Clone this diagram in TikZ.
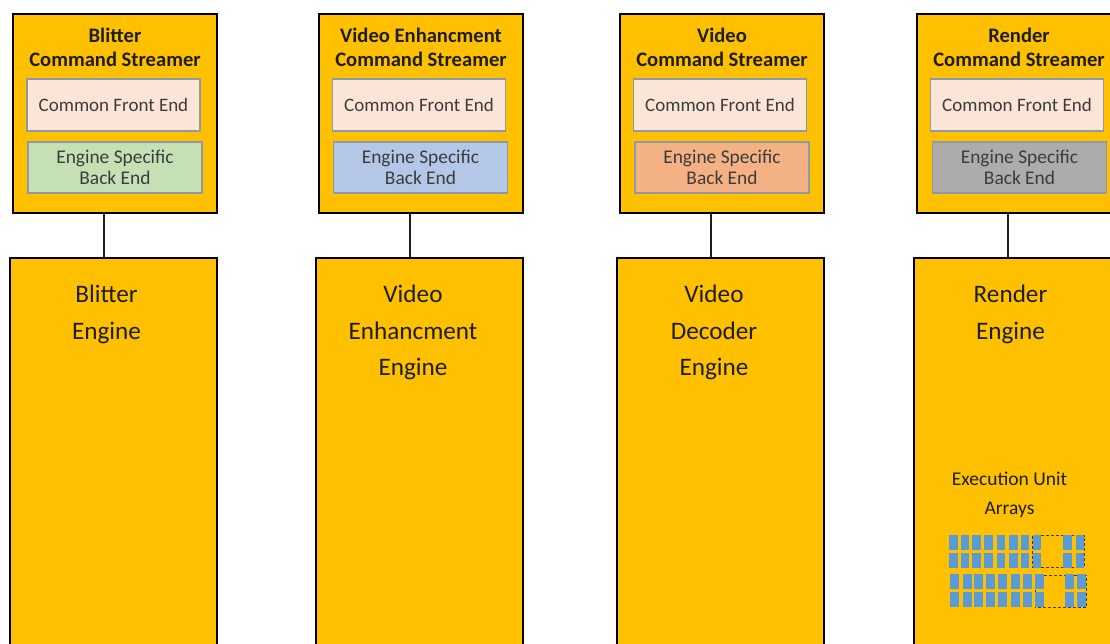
\documentclass[tikz,border=0pt]{standalone}
\usepackage{fontspec}
\setmainfont{Carlito}
\definecolor{engfill}{HTML}{FFC000}
\definecolor{frontfill}{HTML}{FBE5D6}
\definecolor{innerline}{HTML}{8E9AAB}
\definecolor{bltfill}{HTML}{C5E0B4}
\definecolor{vefill}{HTML}{B4C7E7}
\definecolor{vdfill}{HTML}{F4B183}
\definecolor{rndfill}{HTML}{AEABAB}
\definecolor{eublue}{HTML}{5B9BD5}
\definecolor{ink}{HTML}{1E1E1E}
\definecolor{softink}{HTML}{3C3C3C}
\begin{document}
\begin{tikzpicture}[x=1pt,y=-1pt,
  streamer/.style={draw=black, line width=2.8pt, fill=engfill, minimum width=204pt, minimum height=199pt, inner sep=0pt},
  engine/.style={draw=black, line width=2.8pt, fill=engfill, minimum width=207pt, minimum height=450pt, inner sep=0pt},
  front/.style={draw=innerline, line width=1.2pt, fill=frontfill, minimum width=173pt, minimum height=52pt, inner sep=0pt,
    text=softink, font=\fontsize{19}{21}\selectfont},
  back/.style={draw=innerline, line width=1.2pt, minimum width=174pt, minimum height=51pt, inner sep=0pt, align=center,
    text=softink, font=\fontsize{19.4}{21}\selectfont},
  title/.style={align=center, inner sep=0pt, text=ink, font=\bfseries\fontsize{20.6}{24}\selectfont},
  engtext/.style={align=center, inner sep=0pt, text=ink, font=\fontsize{25.2}{36.5}\selectfont},
  link/.style={draw=ink, line width=2.4pt},
  eu/.style={fill=eublue, draw=none},
  spare/.style={draw=softink, line width=0.9pt, dash pattern=on 3pt off 2pt}
]
\useasboundingbox (0,0) rectangle (1110,644);
\clip (0,0) rectangle (1110,644);
\fill[white] (0,0) rectangle (1110,644);

% command streamers
\node[streamer] (cs1) at (115,113.5) {};
\node[streamer] (cs2) at (421,113.5) {};
\node[streamer] (cs3) at (722,113.5) {};
\node[streamer] (cs4) at (1019,113.5) {};

\node[title] (t1) at (115,47) {Blitter\\Command Streamer};
\node[title] (t2) at (421,47) {Video Enhancment\\Command Streamer};
\node[title] (t3) at (722,47) {Video\\Command Streamer};
\node[title] (t4) at (1019,47) {Render\\Command Streamer};

\node[front] (f1) at (113.5,105) {Common Front End};
\node[front] (f2) at (419,105) {Common Front End};
\node[front] (f3) at (720,105) {Common Front End};
\node[front] (f4) at (1017,105) {Common Front End};

\node[back, fill=bltfill] (b1) at (115,167.5) {Engine Specific\\Back End};
\node[back, fill=vefill]  (b2) at (420.5,167.5) {Engine Specific\\Back End};
\node[back, fill=vdfill]  (b3) at (722,167.5) {Engine Specific\\Back End};
\node[back, fill=rndfill] (b4) at (1019.5,167.5) {Engine Specific\\Back End};

% engines
\node[engine] (e1) at (113.5,483) {};
\node[engine] (e2) at (419.5,483) {};
\node[engine] (e3) at (720.5,483) {};
\node[engine] (e4) at (1017.5,483) {};

% streamer to engine links
\foreach \i in {1,2,3,4}{
  \draw[link] ([xshift=-11pt]cs\i.south) -- ([xshift=-11pt]cs\i.south |- e\i.north);
}

\node[engtext, anchor=north] (n1) at (106.5,285) {Blitter\\Engine};
\node[engtext, anchor=north] (n2) at (413,285) {Video\\Enhancment\\Engine};
\node[engtext, anchor=north] (n3) at (714,285) {Video\\Decoder\\Engine};
\node[engtext, anchor=north] (n4) at (1010.5,285) {Render\\Engine};

% execution unit arrays
\node[align=center, inner sep=0pt, text=ink, font=\fontsize{19.5}{29}\selectfont] (eut) at (1009.5,495) {Execution Unit\\Arrays};

\draw[spare] (1032.7,535.5) rectangle (1084,567.5);
\draw[spare] (1035,575) rectangle (1086.5,607);
\foreach \x in {949,960.7,972.3,984.3,996.7,1009,1020.7,1032.7,1063.3,1075.7}{
  \fill[eu] (\x,535) rectangle ++(8.5,15);
  \fill[eu] (\x,553) rectangle ++(8.5,14.5);
}
\foreach \x in {950,962.7,974.3,986,998.3,1011,1022.7,1035,1065,1077.3}{
  \fill[eu] (\x,573.5) rectangle ++(8.8,15);
  \fill[eu] (\x,592) rectangle ++(8.8,14.5);
}
\end{tikzpicture}
\end{document}
